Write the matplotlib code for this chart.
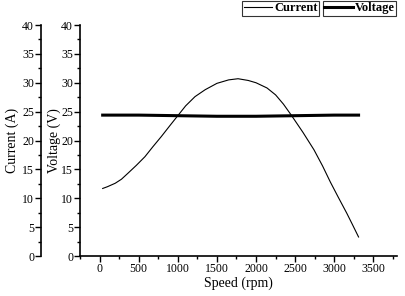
import matplotlib
matplotlib.use("Agg")
import matplotlib.pyplot as plt
from matplotlib.ticker import MultipleLocator

plt.rcParams['font.family'] = ['Liberation Serif', 'DejaVu Serif']

# values
speed_cur = [40, 100, 200, 280, 360, 470, 580, 680, 790, 900, 1000, 1100, 1220, 1350,
             1500, 1650, 1770, 1900, 2000, 2140, 2250, 2350, 2450, 2600, 2740, 2850,
             2950, 3050, 3160, 3230, 3310]
current = [11.7, 12.0, 12.6, 13.3, 14.3, 15.7, 17.2, 18.9, 20.7, 22.6, 24.3, 26.0,
           27.6, 28.8, 29.9, 30.5, 30.7, 30.4, 30.0, 29.1, 27.9, 26.3, 24.4, 21.4,
           18.4, 15.6, 12.8, 10.2, 7.4, 5.5, 3.3]

speed_volt = [40, 500, 1000, 1500, 2000, 2500, 3000, 3310]
voltage = [24.4, 24.4, 24.3, 24.2, 24.2, 24.3, 24.4, 24.4]

xticks = [0, 500, 1000, 1500, 2000, 2500, 3000, 3500]

fig = plt.figure(figsize=(4.05, 2.96), dpi=100)
ax = fig.add_axes([0.1975, 0.135, 0.7825, 0.7805])

ax.plot(speed_volt, voltage, color='black', lw=2.2, label='Voltage')
ax.set_xlim(-250, 3800)
ax.set_ylim(0, 40)
ax.set_xticks(xticks)
ax.xaxis.set_minor_locator(MultipleLocator(250))
ax.yaxis.set_major_locator(MultipleLocator(5))
ax.yaxis.set_minor_locator(MultipleLocator(2.5))
ax.set_xlabel('Speed (rpm)', fontsize=10, labelpad=1)
ax.set_ylabel('Voltage (V)', fontsize=10, labelpad=0)
for s in ['top', 'right']:
    ax.spines[s].set_visible(False)

# separate current axis on the far left
ax2 = ax.twinx()
ax2.plot(speed_cur, current, color='black', lw=0.8, label='Current')
ax2.set_ylim(0, 40)
ax2.spines['left'].set_position(('axes', -0.123))
ax2.spines['left'].set_visible(True)
ax2.yaxis.set_ticks_position('left')
ax2.yaxis.set_label_position('left')
ax2.yaxis.set_major_locator(MultipleLocator(5))
ax2.yaxis.set_minor_locator(MultipleLocator(2.5))
ax2.set_ylabel('Current (A)', fontsize=10, labelpad=2)
for s in ['top', 'right', 'bottom']:
    ax2.spines[s].set_visible(False)

for a in (ax, ax2):
    for sp in a.spines.values():
        sp.set_linewidth(1.2)
    a.tick_params(which='major', direction='out', length=4, width=1, labelsize=8.5, pad=1)
    a.tick_params(which='minor', direction='out', length=2, width=1)

leg_kw = dict(frameon=True, fancybox=False, edgecolor='black',
              handlelength=2.3, handletextpad=0.15, borderpad=0.12, borderaxespad=0,
              loc='upper left', prop={'weight': 'bold', 'size': 9})
l1 = fig.legend(*ax2.get_legend_handles_labels(), bbox_to_anchor=(0.598, 0.998), **leg_kw)
l2 = fig.legend(*ax.get_legend_handles_labels(), bbox_to_anchor=(0.797, 0.998), **leg_kw)
for l in (l1, l2):
    l.get_frame().set_linewidth(0.8)

fig.savefig('out.png', dpi=100)
